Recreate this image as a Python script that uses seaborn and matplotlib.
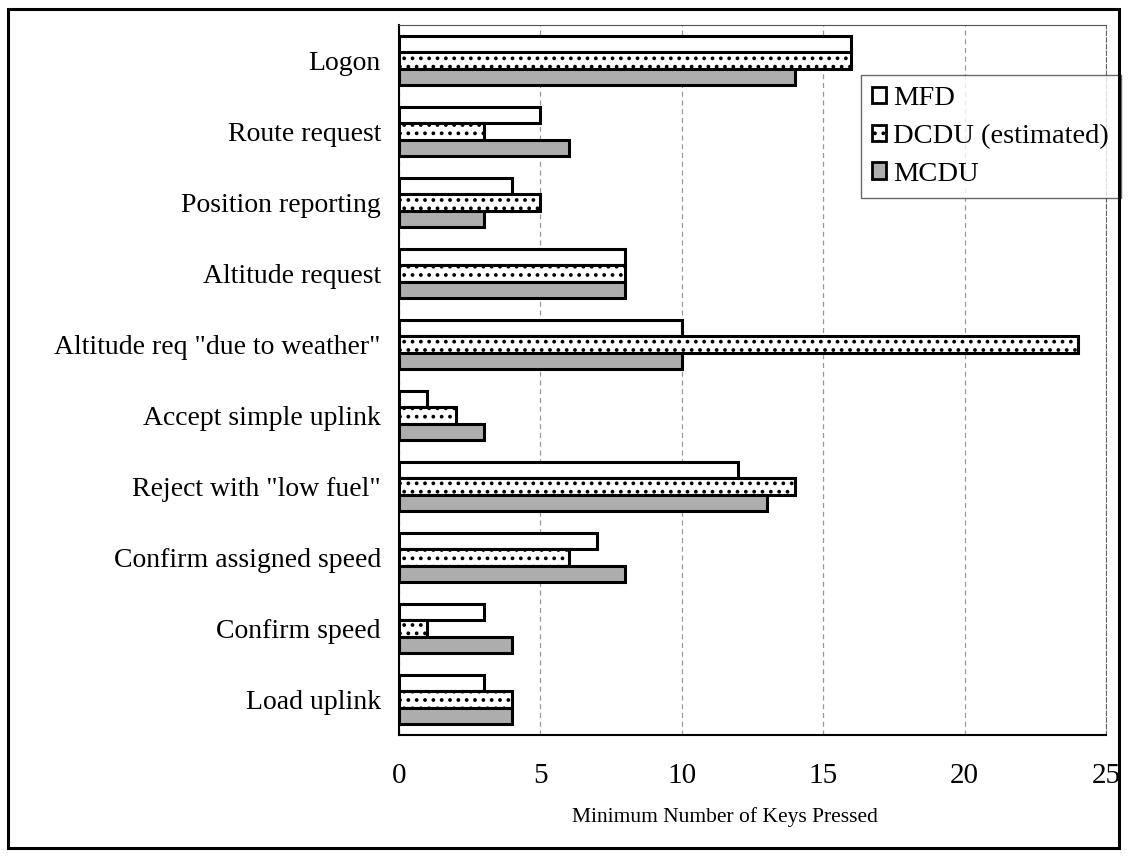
import pandas as pd
import seaborn as sns
import matplotlib.pyplot as plt
from matplotlib.patches import Rectangle

tasks = ["Logon", "Route request", "Position reporting", "Altitude request",
         "Altitude req \"due to weather\"", "Accept simple uplink",
         "Reject with \"low fuel\"", "Confirm assigned speed", "Confirm speed",
         "Load uplink"]
series = ["MFD", "DCDU (estimated)", "MCDU"]
mfd = [16, 5, 4, 8, 10, 1, 12, 7, 3, 3]
dcdu = [16, 3, 5, 8, 24, 2, 14, 6, 1, 4]
mcdu = [14, 6, 3, 8, 10, 3, 13, 8, 4, 4]

df = pd.DataFrame({"Task": tasks * 3,
                   "System": [s for s in series for _ in tasks],
                   "Keys": mfd + dcdu + mcdu})

sns.set_style("white")
plt.rcParams["font.family"] = ["Liberation Serif", "DejaVu Serif"]
for k in ["text.color", "axes.labelcolor", "xtick.color", "ytick.color"]:
    plt.rcParams[k] = "black"
plt.rcParams["hatch.linewidth"] = 1.5

fig = plt.figure(figsize=(11.28, 8.61), dpi=100)
ax = fig.add_axes([0.3537, 0.1463, 0.6268, 0.8247])

face = {"MFD": "white", "DCDU (estimated)": "white", "MCDU": "#adadad"}
hatches = {"MFD": "", "DCDU (estimated)": "..", "MCDU": ""}

sns.barplot(data=df, y="Task", x="Keys", hue="System", order=tasks,
            hue_order=series, palette=face, orient="h", width=0.68,
            edgecolor="black", linewidth=2.2, ax=ax, legend=True)

for cont, s in zip(ax.containers, series):
    for bar in cont:
        bar.set_hatch(hatches[s])
        bar.set_edgecolor("black")

ax.set_xlim(0, 25)
ax.set_ylim(9.5, -0.5)
ax.set_xticks([0, 5, 10, 15, 20, 25])
ax.tick_params(axis="x", labelsize=21, length=3, direction="out", pad=17)
ax.tick_params(axis="y", which="major", labelsize=20, length=0, pad=13)
ax.set_yticks([i - 0.5 for i in range(11)], minor=True)
ax.tick_params(axis="y", which="minor", length=6, direction="out", width=1)
ax.set_ylabel("")
ax.set_xlabel("Minimum Number of Keys Pressed", fontsize=15.5)
ax.xaxis.set_label_coords(0.461, -0.102)

ax.grid(axis="x", linestyle=(0, (4, 3)), color="#999999", linewidth=0.9)
ax.set_axisbelow(True)
for side in ["left", "bottom"]:
    ax.spines[side].set_color("black")
    ax.spines[side].set_linewidth(1.5)
ax.spines["top"].set_linestyle((0, (1, 1)))
ax.spines["top"].set_color("#555555")
ax.spines["right"].set_linestyle((0, (4, 2)))
ax.spines["right"].set_color("#666666")

leg = ax.legend(loc="upper left", bbox_to_anchor=(0.653, 0.93), fontsize=20.5,
                frameon=True, fancybox=False, edgecolor="#444444",
                handlelength=0.5, handleheight=0.5, handletextpad=0.25,
                borderpad=0.4, labelspacing=0.45, borderaxespad=0)
leg.get_frame().set_linewidth(1)
for h, s in zip(leg.legend_handles, series):
    h.set_hatch(hatches[s])
    h.set_edgecolor("black")
    h.set_linewidth(2)

fig.patches.append(Rectangle((0.0071, 0.0151), 0.9849, 0.9744, transform=fig.transFigure,
                             fill=False, edgecolor="black", linewidth=2.2))

fig.savefig("out.png", dpi=100)
